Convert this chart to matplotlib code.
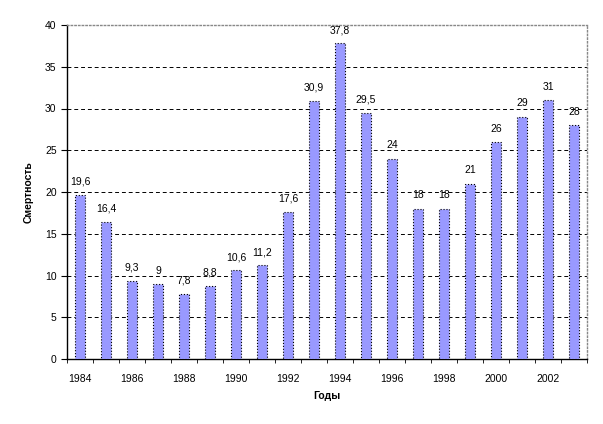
import matplotlib
matplotlib.use("Agg")
import matplotlib.pyplot as plt
import numpy as np

plt.rcParams['font.family'] = ['Liberation Sans', 'DejaVu Sans']

years = list(range(1984, 2004))
values = [19.6, 16.4, 9.3, 9, 7.8, 8.8, 10.6, 11.2, 17.6, 30.9,
          37.8, 29.5, 24, 18, 18, 21, 26, 29, 31, 28]
labels = ["19,6", "16,4", "9,3", "9", "7,8", "8,8", "10,6", "11,2", "17,6", "30,9",
          "37,8", "29,5", "24", "18", "18", "21", "26", "29", "31", "28"]
yticks = [0, 5, 10, 15, 20, 25, 30, 35, 40]

fig = plt.figure(figsize=(6.03, 4.24), dpi=100)
ax = fig.add_axes([67/603, 1-359/424, 520/603, 334/424])

x = np.arange(len(years))
bars = ax.bar(x, values, width=0.36, color='#9999FF', edgecolor='black',
              linewidth=0.8, linestyle=':', zorder=3)
for xi, v, lab in zip(x, values, labels):
    ax.text(xi, v + 1.0, lab, ha='center', va='bottom', fontsize=7.5, zorder=4)

ax.set_xlim(-0.5, len(years) - 0.5)
ax.set_ylim(0, 40)
ax.set_yticks(yticks)
ax.set_yticklabels([str(t) for t in yticks], fontsize=7.5)
ax.set_xticks(x[::2])
ax.set_xticklabels([str(y) for y in years[::2]], fontsize=7.5)
ax.set_xticks(np.arange(-0.5, len(years), 1), minor=True)
ax.tick_params(axis='x', which='major', length=0, pad=11)
ax.tick_params(axis='x', which='minor', length=3, direction='out')
ax.tick_params(axis='y', length=4, direction='out')

for t in yticks[1:-1]:
    ax.axhline(t, color='black', linestyle=(0, (4, 3)), linewidth=0.7, zorder=1)

ax.spines['left'].set_color('black')
ax.spines['bottom'].set_color('black')
ax.spines['left'].set_linewidth(1.0)
ax.spines['bottom'].set_linewidth(1.0)
for s in ['top', 'right']:
    ax.spines[s].set_color('#888888')
    ax.spines[s].set_linestyle(':')
    ax.spines[s].set_linewidth(1.0)

ax.set_xlabel('Годы', fontsize=7.5, fontweight='bold', labelpad=5)
ax.set_ylabel('Смертность', fontsize=7.5, fontweight='bold', labelpad=8)

fig.savefig('out.png', dpi=100)
